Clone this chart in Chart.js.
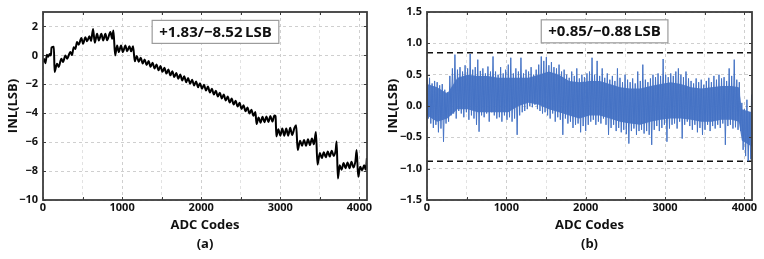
<!DOCTYPE html>
<html lang="en">
<head>
<meta charset="UTF-8">
<title>INL</title>
<script src="https://cdn.jsdelivr.net/npm/chart.js"></script>
<style>
  body { margin: 0; background: #fff; }
  canvas { position: absolute; top: 0; }
  #chartA { left: 0; }
  #chartB { left: 382px; }
</style>
</head>
<body>
<canvas id="chartA" width="382" height="259"></canvas>
<canvas id="chartB" width="382" height="259"></canvas>
<script>
// (a) INL before calibration
const codesA = [
  0,15,30,50,65,85,100,108,138,146,
  177,198,232,253,283,304,346,367,388,409,
  430,452,485,506,536,557,587,608,633,654,
  684,705,738,760,789,810,852,874,890,912,
  937,958,987,1009,1042,1063,1093,1114,1139,1160,
  1185,1210,1235,1260,1285,1310,1335,1360,1385,1410,
  1435,1460,1485,1510,1535,1560,1585,1610,1635,1660,
  1685,1710,1735,1760,1785,1810,1835,1860,1885,1910,
  1935,1960,1985,2010,2035,2060,2085,2110,2135,2160,
  2185,2210,2235,2260,2285,2310,2335,2360,2385,2410,
  2435,2460,2485,2510,2535,2560,2585,2610,2635,2660,
  2685,2700,2725,2750,2775,2800,2825,2850,2875,2900,
  2925,2940,2950,2975,3000,3025,3050,3075,3100,3125,
  3150,3180,3200,3220,3250,3275,3300,3325,3350,3375,
  3400,3425,3450,3470,3500,3525,3550,3575,3600,3625,
  3650,3675,3700,3712,3728,3750,3775,3800,3825,3850,
  3875,3900,3925,3950,3965,3985,4010,4035,4060,4080,
  4095
];
const inlA = [
  -0.45,-0.25,-0.55,0.05,-0.10,0.10,0.00,0.55,0.60,-1.15,
  -0.57,-0.80,-0.23,-0.46,0.00,-0.23,0.23,0.02,0.57,0.45,
  0.92,0.74,1.20,0.80,1.26,0.97,1.33,1.00,1.83,0.88,
  1.49,1.03,1.49,1.03,1.49,1.05,1.61,1.15,1.72,0.00,
  0.69,0.23,0.69,0.23,0.69,0.28,0.64,0.28,0.64,-0.41,
  -0.04,-0.44,-0.16,-0.56,-0.28,-0.67,-0.39,-0.79,-0.51,-0.91,
  -0.63,-1.03,-0.74,-1.14,-0.86,-1.26,-0.98,-1.38,-1.10,-1.50,
  -1.21,-1.61,-1.33,-1.73,-1.45,-1.85,-1.57,-1.96,-1.68,-2.08,
  -1.80,-2.20,-1.92,-2.31,-2.03,-2.43,-2.16,-2.57,-2.30,-2.71,
  -2.44,-2.85,-2.58,-2.98,-2.71,-3.12,-2.85,-3.26,-2.99,-3.40,
  -3.13,-3.54,-3.28,-3.70,-3.44,-3.86,-3.60,-4.02,-3.76,-4.18,
  -3.92,-4.75,-4.30,-4.65,-4.25,-4.62,-4.22,-4.60,-4.20,-4.58,
  -4.15,-4.20,-5.60,-5.10,-5.55,-5.05,-5.55,-5.05,-5.55,-5.00,
  -5.50,-5.00,-4.83,-6.55,-5.90,-6.25,-5.85,-6.25,-5.80,-6.20,
  -5.75,-6.15,-5.30,-7.55,-6.75,-7.10,-6.70,-7.05,-6.65,-7.00,
  -6.60,-6.95,-6.55,-5.95,-8.52,-7.60,-7.90,-7.45,-7.80,-7.40,
  -7.80,-7.35,-7.75,-7.30,-6.55,-8.40,-7.70,-7.95,-7.60,-7.90,
  -7.10
];

// (b) INL after calibration: upper / lower edge of the noise band per code bucket
const codesB = [
  0,32,64,96,128,160,192,224,256,288,
  320,352,384,416,448,480,512,544,576,608,
  640,672,704,736,768,800,832,864,896,928,
  960,992,1024,1056,1088,1120,1152,1184,1216,1248,
  1280,1312,1344,1376,1408,1440,1472,1504,1536,1568,
  1600,1632,1664,1696,1728,1760,1792,1824,1856,1888,
  1920,1952,1984,2016,2048,2080,2112,2144,2176,2208,
  2240,2272,2304,2336,2368,2400,2432,2464,2496,2528,
  2560,2592,2624,2656,2688,2720,2752,2784,2816,2848,
  2880,2912,2944,2976,3008,3040,3072,3104,3136,3168,
  3200,3232,3264,3296,3328,3360,3392,3424,3456,3488,
  3520,3552,3584,3616,3648,3680,3712,3744,3776,3808,
  3840,3872,3904,3936,3968,4000,4032,4064,4090
];
const inlHiB = [
  0.42,0.45,0.36,0.40,0.38,0.33,0.35,0.26,0.22,0.48,
  0.60,0.82,0.58,0.62,0.55,0.65,0.60,0.83,0.58,0.62,
  0.74,0.56,0.60,0.52,0.63,0.55,0.79,0.55,0.50,0.62,
  0.52,0.58,0.66,0.77,0.52,0.60,0.55,0.77,0.52,0.58,
  0.55,0.62,0.50,0.58,0.66,0.79,0.72,0.78,0.65,0.70,
  0.62,0.60,0.66,0.55,0.58,0.50,0.45,0.55,0.48,0.60,
  0.44,0.50,0.46,0.52,0.55,0.77,0.50,0.72,0.48,0.60,
  0.45,0.52,0.42,0.48,0.40,0.60,0.45,0.38,0.50,0.42,
  0.38,0.44,0.36,0.55,0.40,0.66,0.42,0.38,0.44,0.50,
  0.46,0.52,0.48,0.75,0.50,0.46,0.52,0.48,0.55,0.60,
  0.50,0.46,0.55,0.44,0.40,0.36,0.44,0.38,0.42,0.34,
  0.40,0.45,0.38,0.48,0.42,0.50,0.44,0.46,0.40,0.60,
  0.48,0.74,0.42,0.38,0.05,-0.05,0.10,-0.10,0.18
];
const inlLoB = [
  -0.20,-0.28,-0.35,-0.30,-0.42,-0.36,-0.57,-0.28,-0.25,-0.15,
  -0.12,-0.20,-0.08,-0.12,-0.18,-0.10,-0.22,-0.15,-0.20,-0.30,
  -0.41,-0.15,-0.18,-0.12,-0.25,-0.10,-0.15,-0.20,-0.18,-0.25,
  -0.15,-0.22,-0.18,-0.25,-0.20,-0.46,-0.15,-0.10,-0.08,-0.05,
  0.00,-0.02,0.02,-0.05,-0.08,-0.12,-0.10,-0.15,-0.20,-0.12,
  -0.25,-0.18,-0.22,-0.46,-0.20,-0.28,-0.25,-0.35,-0.30,-0.28,
  -0.42,-0.32,-0.40,-0.30,-0.25,-0.22,-0.30,-0.25,-0.28,-0.20,
  -0.30,-0.46,-0.35,-0.30,-0.40,-0.35,-0.42,-0.38,-0.45,-0.60,
  -0.40,-0.36,-0.46,-0.40,-0.38,-0.44,-0.40,-0.46,-0.62,-0.38,
  -0.32,-0.40,-0.35,-0.30,-0.57,-0.36,-0.30,-0.28,-0.36,-0.25,
  -0.52,-0.30,-0.25,-0.32,-0.38,-0.30,-0.42,-0.35,-0.46,-0.38,
  -0.30,-0.40,-0.32,-0.36,-0.30,-0.35,-0.28,-0.62,-0.32,-0.30,
  -0.36,-0.34,-0.38,-0.40,-0.70,-0.80,-0.88,-0.85,-0.60
];
// dense core of the band (solid blue region)
const coreCodesB = [0,128,256,384,512,640,768,896,1024,1152,1280,1408,1536,1664,1792,1920,2048,
  2176,2304,2432,2560,2688,2816,2944,3072,3200,3328,3456,3584,3712,3840,3930,3968,4096];
const coreHiB = [0.35,0.30,0.20,0.45,0.50,0.48,0.48,0.45,0.45,0.45,0.45,0.50,0.55,0.50,0.40,0.38,0.40,
  0.40,0.35,0.30,0.28,0.28,0.32,0.35,0.38,0.35,0.30,0.28,0.30,0.32,0.32,0.30,-0.05,-0.10];
const coreLoB = [-0.15,-0.25,-0.20,-0.05,-0.05,-0.10,-0.10,-0.10,-0.10,0.00,0.05,0.02,-0.05,-0.10,-0.15,-0.20,-0.15,
  -0.15,-0.20,-0.25,-0.28,-0.30,-0.25,-0.22,-0.20,-0.20,-0.22,-0.25,-0.25,-0.22,-0.22,-0.25,-0.55,-0.65];
const limitHiB = 0.85;
const limitLoB = -0.88;

// axes
const codeMax = 4096;
const xTicks = [0,500,1000,1500,2000,2500,3000,3500,4000];
const xLabels = [0,1000,2000,3000,4000];
const yTicksA = [-10,-9,-8,-7,-6,-5,-4,-3,-2,-1,0,1,2,3];
const yLabelsA = [-10,-8,-6,-4,-2,0,2];
const yTicksB = [-1.5,-1.25,-1,-0.75,-0.5,-0.25,0,0.25,0.5,0.75,1,1.25,1.5];
const yLabelsB = [-1.5,-1,-0.5,0,0.5,1,1.5];

Chart.defaults.font.family = "'Open Sans', sans-serif";
Chart.defaults.font.weight = 'bold';
Chart.defaults.color = '#111';

const minus = s => s.replace('-', '\u2212');

// frame, inward ticks and the LSB box
const framePlugin = {
  id: 'frame',
  afterDatasetsDraw(chart, args, opts) {
    const { ctx, chartArea: a, scales } = chart;
    ctx.save();
    ctx.strokeStyle = '#3c3c3c';
    ctx.lineWidth = 1;
    scales.x.ticks.forEach(t => {
      const px = Math.round(scales.x.getPixelForValue(t.value)) + 0.5;
      ctx.beginPath();
      ctx.moveTo(px, a.bottom); ctx.lineTo(px, a.bottom - 3);
      ctx.moveTo(px, a.top); ctx.lineTo(px, a.top + 3);
      ctx.stroke();
    });
    scales.y.ticks.forEach(t => {
      const py = Math.round(scales.y.getPixelForValue(t.value)) + 0.5;
      ctx.beginPath();
      ctx.moveTo(a.left, py); ctx.lineTo(a.left + 3, py);
      ctx.moveTo(a.right, py); ctx.lineTo(a.right - 3, py);
      ctx.stroke();
    });
    ctx.lineWidth = 1.8;
    ctx.strokeRect(a.left, a.top, a.right - a.left, a.bottom - a.top);

    // annotation box
    const bx = scales.x.getPixelForValue(opts.code);
    const by = scales.y.getPixelForValue(opts.value);
    ctx.font = "bold 15px 'Open Sans', sans-serif";
    const w = ctx.measureText(opts.text).width + 14;
    const h = 23;
    ctx.fillStyle = '#fff';
    ctx.fillRect(bx, by, w, h);
    ctx.strokeStyle = '#9b9b9b';
    ctx.lineWidth = 1.2;
    ctx.strokeRect(bx, by, w, h);
    ctx.fillStyle = '#111';
    ctx.textBaseline = 'middle';
    ctx.fillText(opts.text, bx + 7, by + h / 2 + 0.5);
    ctx.restore();
  }
};

function makeChart(id, datasets, cfg) {
  const ctx = document.getElementById(id).getContext('2d');
  return new Chart(ctx, {
    type: 'line',
    data: { datasets: datasets },
    plugins: [framePlugin],
    options: {
      responsive: false,
      animation: false,
      layout: { padding: { top: 12, right: cfg.padRight, left: 0, bottom: 0 } },
      elements: { point: { radius: 0 }, line: { tension: 0 } },
      scales: {
        x: {
          type: 'linear',
          min: 0,
          max: codeMax,
          afterBuildTicks: s => { s.ticks = xTicks.map(v => ({ value: v })); },
          afterFit: s => { s.height = 59; },
          ticks: {
            padding: 1,
            maxRotation: 0,
            font: { size: 11, weight: 'bold' },
            callback: v => xLabels.includes(v) ? String(v) : ''
          },
          grid: {
            drawTicks: false,
            color: c => xLabels.includes(c.tick.value) ? '#cfcfcf' : '#e2e2e2'
          },
          border: { display: false, dash: [3, 3] },
          title: {
            display: true,
            text: ['ADC Codes', cfg.tag],
            font: { size: 13, weight: 'bold', lineHeight: 1.4 },
            padding: { top: 0, bottom: 6 }
          }
        },
        y: {
          type: 'linear',
          min: cfg.yTicks[0],
          max: cfg.yTicks[cfg.yTicks.length - 1],
          afterBuildTicks: s => { s.ticks = cfg.yTicks.map(v => ({ value: v })); },
          afterFit: s => { s.width = cfg.axisWidth; },
          ticks: {
            padding: 5,
            font: { size: 11, weight: 'bold' },
            callback: v => cfg.yLabels.includes(v) ? minus(cfg.fmt(v)) : ''
          },
          grid: {
            drawTicks: false,
            color: c => cfg.yLabels.includes(c.tick.value) ? '#cfcfcf' : '#e2e2e2'
          },
          border: { display: false, dash: [3, 3] },
          title: {
            display: true,
            text: 'INL(LSB)',
            font: { size: 13, weight: 'bold' },
            padding: { top: cfg.titlePad, bottom: 0 }
          }
        }
      },
      plugins: {
        legend: { display: false },
        tooltip: { enabled: false },
        frame: cfg.box
      }
    }
  });
}

// chart (a)
makeChart('chartA', [
  {
    data: codesA.map((c, i) => ({ x: c, y: inlA[i] })),
    borderColor: '#000',
    borderWidth: 2,
    cubicInterpolationMode: 'monotone'
  }
], {
  tag: '(a)',
  padRight: 15,
  axisWidth: 43,
  titlePad: 5,
  yTicks: yTicksA,
  yLabels: yLabelsA,
  fmt: v => String(v),
  box: { text: '+1.83/\u22128.52\u2009LSB', code: 1380, value: 2.42 }
});

// chart (b): solid core plus a zigzag between the upper and lower edges
const bandB = [];
codesB.forEach((c, i) => {
  bandB.push({ x: c, y: inlHiB[i] });
  bandB.push({ x: c + 16, y: inlLoB[i] });
});

makeChart('chartB', [
  {
    data: coreCodesB.map((c, i) => ({ x: c, y: coreHiB[i] })),
    borderWidth: 0,
    backgroundColor: 'rgba(68,114,196,0.92)',
    fill: '+1'
  },
  {
    data: coreCodesB.map((c, i) => ({ x: c, y: coreLoB[i] })),
    borderWidth: 0,
    fill: false
  },
  {
    data: bandB,
    borderColor: '#4472c4',
    borderWidth: 1
  },
  {
    data: [{ x: 0, y: limitHiB }, { x: codeMax, y: limitHiB }],
    borderColor: '#111',
    borderWidth: 1.5,
    borderDash: [6, 4]
  },
  {
    data: [{ x: 0, y: limitLoB }, { x: codeMax, y: limitLoB }],
    borderColor: '#111',
    borderWidth: 1.5,
    borderDash: [6, 4]
  }
], {
  tag: '(b)',
  padRight: 12,
  axisWidth: 45,
  titlePad: 3,
  yTicks: yTicksB,
  yLabels: yLabelsB,
  fmt: v => v.toFixed(1),
  box: { text: '+0.85/\u22120.88\u2009LSB', code: 1440, value: 1.375 }
});
</script>
</body>
</html>
